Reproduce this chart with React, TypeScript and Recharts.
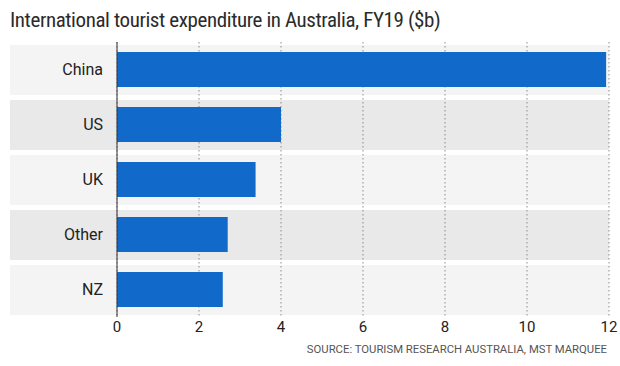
import React from 'react';
import { BarChart, Bar, XAxis, YAxis, CartesianGrid } from 'recharts';

const countries = ['China', 'US', 'UK', 'Other', 'NZ'];
const spending = [11.93, 4.0, 3.38, 2.7, 2.58];
const xTicks = [0, 2, 4, 6, 8, 10, 12];
const title = 'International tourist expenditure in Australia, FY19 ($b)';
const source = 'SOURCE: TOURISM RESEARCH AUSTRALIA, MST MARQUEE';

const data = countries.map((c, i) => ({ country: c, value: spending[i] }));

const LIGHT = '#f4f4f4';
const DARK = '#e9e9e9';
const GAP = 2.5;
const bandFills = [
  'transparent',
  ...countries.flatMap((_, i) => [i % 2 === 0 ? LIGHT : DARK, 'transparent']),
];

const FONT = 'Roboto, "Noto Sans", sans-serif';
const NARROW = '"Liberation Sans Narrow", "Roboto Condensed", "DejaVu Sans Condensed", Roboto, sans-serif';

const mapScale = (scale: any, v: string): number | undefined => {
  if (!scale) return undefined;
  if (typeof scale === 'function') return scale(v);
  if (typeof scale.map === 'function') return scale.map(v);
  if (typeof scale.scale === 'function') return scale.scale(v);
  return undefined;
};

const bandPoints = (args: any) => {
  const { yAxis, offset } = args;
  const scale = yAxis && yAxis.scale;
  if (scale && typeof scale.bandwidth === 'function') {
    const bw = scale.bandwidth();
    const starts = countries.map((c) => mapScale(scale, c));
    if (starts.every((s) => typeof s === 'number' && !isNaN(s))) {
      return starts.flatMap((s) => [(s as number) + GAP, (s as number) + bw - GAP]);
    }
  }
  const band = offset.height / countries.length;
  return countries.flatMap((_, i) => [offset.top + i * band + GAP, offset.top + (i + 1) * band - GAP]);
};

export default function App() {
  return (
    <div style={{ position: 'absolute', left: 0, top: 0, width: 620, height: 366, background: '#fff', fontFamily: FONT }}>
      <div
        style={{
          position: 'absolute',
          left: 10,
          top: 9,
          fontSize: 21,
          lineHeight: '22px',
          letterSpacing: '-0.4px',
          color: '#2b2b2b',
          whiteSpace: 'nowrap',
          fontFamily: NARROW,
        }}
      >
        {title}
      </div>
      <BarChart
        width={620}
        height={366}
        data={data}
        layout="vertical"
        margin={{ top: 42, right: 11, bottom: 19, left: 10 }}
      >
        <CartesianGrid
          x={10}
          width={599}
          horizontal={() => null}
          horizontalFill={bandFills}
          horizontalCoordinatesGenerator={bandPoints}
          stroke="#8a8a8a"
          strokeDasharray="1.5 2.5"
        />
        <XAxis
          type="number"
          dataKey="value"
          domain={[0, 12]}
          ticks={xTicks}
          interval={0}
          axisLine={false}
          tickLine={false}
          tickSize={0}
          tickMargin={4}
          height={30}
          tick={{ fontSize: 15, fill: '#222', fontFamily: FONT }}
        />
        <YAxis
          type="category"
          dataKey="country"
          width={107}
          axisLine={{ stroke: '#333', strokeWidth: 1 }}
          tickLine={false}
          tickSize={0}
          tickMargin={14}
          tick={{ fontSize: 16, fill: '#222', fontFamily: FONT }}
        />
        <Bar dataKey="value" fill="#116ac9" barSize={35} isAnimationActive={false} />
      </BarChart>
      <div
        style={{
          position: 'absolute',
          right: 13,
          top: 343,
          fontSize: 11.3,
          lineHeight: '14px',
          color: '#555',
          whiteSpace: 'nowrap',
        }}
      >
        {source}
      </div>
    </div>
  );
}
